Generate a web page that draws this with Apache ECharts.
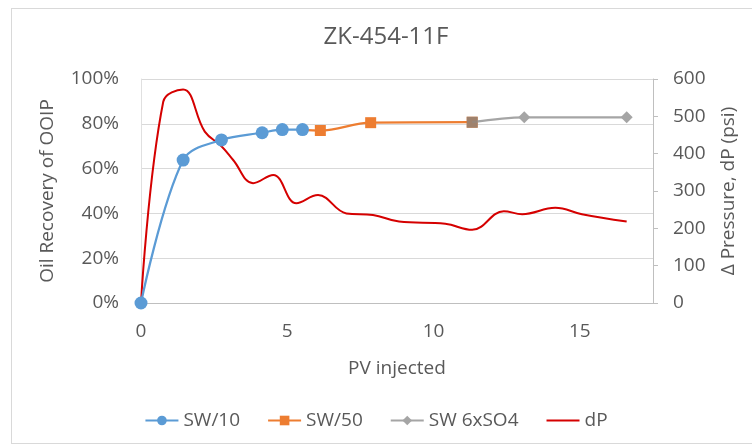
<!DOCTYPE html>
<html>
<head>
<meta charset="utf-8">
<script src="https://cdn.jsdelivr.net/npm/echarts@6/dist/echarts.min.js"></script>
<style>
html,body{margin:0;padding:0;background:#fff;}
#frame{position:absolute;left:11px;top:8px;width:760px;height:436px;border:1px solid #d9d9d9;box-sizing:border-box;}
#chart{position:absolute;left:0;top:0;width:752px;height:448px;}
</style>
</head>
<body>
<div id="frame"></div>
<div id="chart"></div>
<script>
var titleText = 'ZK-454-11F';
var xTicks = [0, 5, 10, 15];
var leftTicks = [0, 20, 40, 60, 80, 100];
var rightTicks = [0, 100, 200, 300, 400, 500, 600];

var sw10PV = [0, 1.44, 2.75, 4.14, 4.83, 5.52];
var sw10Rec = [0, 63.8, 72.8, 76.0, 77.4, 77.4];

var sw50PV = [5.52, 6.13, 7.85, 11.32];
var sw50Rec = [77.4, 77.0, 80.5, 80.7];

var sw6PV = [11.32, 13.1, 16.6];
var sw6Rec = [80.7, 82.9, 82.9];

var dpPV = [0, 0.76, 1.44, 2.18, 2.75, 3.15, 3.83, 4.52, 5.31, 6.05, 7.02, 7.93, 8.82, 10.4, 11.32, 12.4, 13.03, 14.16, 15.07, 16.6];
var dpVal = [0, 539, 572, 459, 420, 383, 321, 343, 267, 289, 240, 236, 218, 212, 196, 246, 238, 255, 238, 218];

function zip(a, b) { return a.map(function (v, i) { return [v, b[i]]; }); }

var sw50Data = zip(sw50PV, sw50Rec).map(function (p, i) {
  return i === 0 ? { value: p, symbol: 'none' } : p;
});
var sw6Data = zip(sw6PV, sw6Rec).map(function (p, i) {
  return i === 0 ? { value: p, symbol: 'rect', symbolSize: 11, itemStyle: { color: 'rgba(150,130,115,0.9)' } } : p;
});

var txt = '#595959';
var font = 'Open Sans, Noto Sans, sans-serif';

var chart = echarts.init(document.getElementById('chart'));
chart.setOption({
  animation: false,
  textStyle: { fontFamily: font },
  title: {
    text: titleText, left: 381, top: 20, textAlign: 'center',
    textStyle: { fontSize: 24, fontWeight: 'normal', color: txt, fontFamily: font }
  },
  grid: { left: 141, right: 99, top: 79, bottom: 145 },
  legend: {
    bottom: 13, left: 'center', itemGap: 27, itemWidth: 33, itemHeight: 12,
    textStyle: { fontSize: 19, color: txt, fontFamily: font },
    data: ['SW/10', 'SW/50', 'SW 6xSO4', { name: 'dP', itemStyle: { opacity: 0 } }]
  },
  xAxis: {
    type: 'value', min: 0, max: 17.5, interval: 5,
    name: 'PV injected', nameLocation: 'middle', nameGap: 56,
    nameTextStyle: { fontSize: 19, color: txt },
    axisLine: { show: true, onZero: false, lineStyle: { color: '#bfbfbf' } },
    axisTick: { show: false },
    splitLine: { show: false },
    axisLabel: {
      fontSize: 19, color: txt, margin: 19, showMaxLabel: false,
      formatter: function (v) { return xTicks.indexOf(v) >= 0 ? String(v) : ''; }
    }
  },
  yAxis: [{
    type: 'value', min: 0, max: 100, interval: 20,
    name: 'Oil Recovery of OOIP', nameLocation: 'middle', nameGap: 84, nameRotate: 90,
    nameTextStyle: { fontSize: 19, color: txt },
    axisLine: { show: true, lineStyle: { color: '#e0e0e0' } },
    axisTick: { show: false },
    splitLine: { show: true, lineStyle: { color: '#d9d9d9', width: 1 } },
    axisLabel: {
      fontSize: 19, color: txt, margin: 22,
      formatter: function (v) { return leftTicks.indexOf(v) >= 0 ? v + '%' : ''; }
    }
  }, {
    type: 'value', min: 0, max: 600, interval: 100, position: 'right',
    name: '\u0394 Pressure, dP (psi)', nameLocation: 'middle', nameGap: 66, nameRotate: 90,
    nameTextStyle: { fontSize: 19, color: txt },
    axisLine: { show: true, lineStyle: { color: '#bfbfbf' } },
    axisTick: { show: true, length: 5, lineStyle: { color: '#bfbfbf' } },
    splitLine: { show: false },
    axisLabel: {
      fontSize: 19, color: txt, margin: 20,
      formatter: function (v) { return rightTicks.indexOf(v) >= 0 ? String(v) : ''; }
    }
  }],
  series: [{
    name: 'SW/10', type: 'line', yAxisIndex: 0, smooth: 0.35,
    data: zip(sw10PV, sw10Rec),
    symbol: 'circle', symbolSize: 13,
    lineStyle: { color: '#5b9bd5', width: 2.25 },
    itemStyle: { color: '#5b9bd5' }, z: 3
  }, {
    name: 'SW/50', type: 'line', yAxisIndex: 0, smooth: 0.35,
    data: sw50Data,
    symbol: 'rect', symbolSize: 11,
    lineStyle: { color: '#ed7d31', width: 2.25 },
    itemStyle: { color: '#ed7d31' }, z: 3
  }, {
    name: 'SW 6xSO4', type: 'line', yAxisIndex: 0, smooth: 0.35,
    data: sw6Data,
    symbol: 'diamond', symbolSize: 12,
    lineStyle: { color: '#a5a5a5', width: 2.25 },
    itemStyle: { color: '#a5a5a5' }, z: 4
  }, {
    name: 'dP', type: 'line', yAxisIndex: 1, smooth: 0.4,
    data: zip(dpPV, dpVal),
    symbol: 'none',
    lineStyle: { color: '#d50000', width: 2 },
    itemStyle: { color: '#d50000' }, z: 2
  }]
});
</script>
</body>
</html>
